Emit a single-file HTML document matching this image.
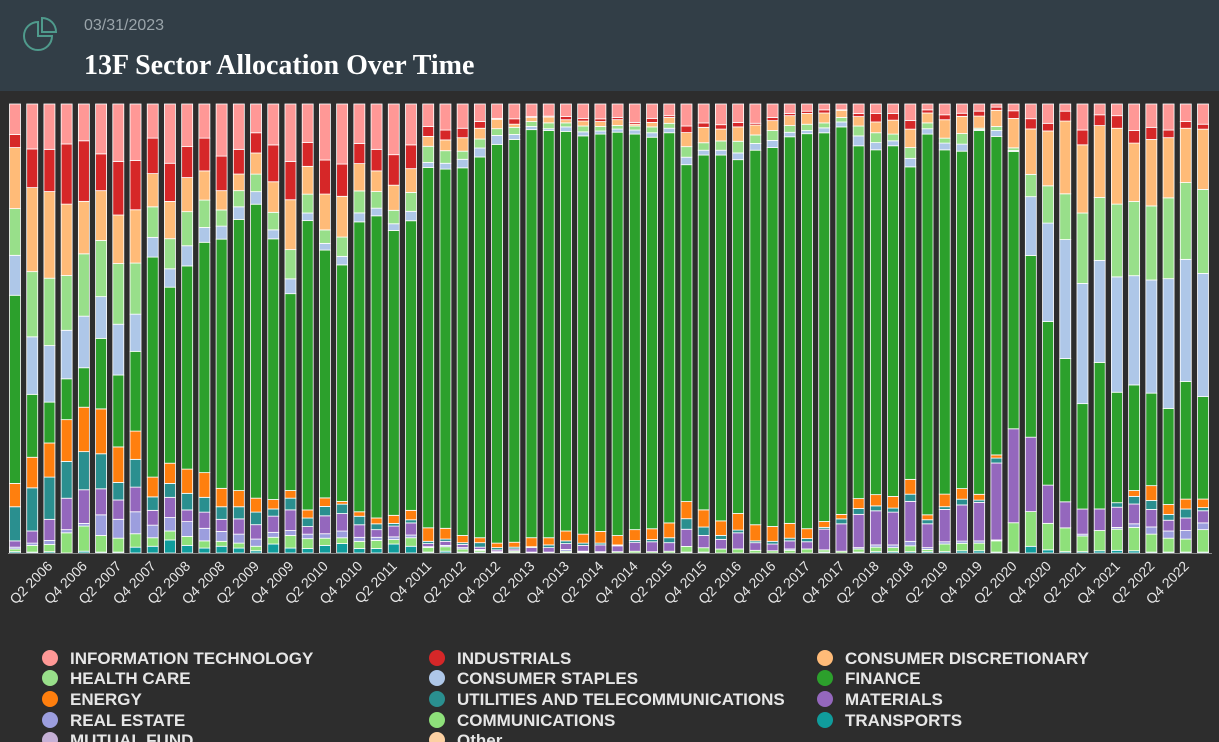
<!DOCTYPE html>
<html><head><meta charset="utf-8">
<style>
html,body{margin:0;padding:0;width:1219px;height:742px;overflow:hidden;background:#2d2d2d;font-family:"Liberation Sans",sans-serif;}
#hdr{position:absolute;left:0;top:0;width:1219px;height:91px;background:#323e47;}
#date{position:absolute;left:84px;top:17px;font-size:16px;color:#9aa4aa;}
#title{position:absolute;left:84px;top:50px;font-size:28px;font-weight:bold;color:#fff;font-family:"Liberation Serif",serif;}
svg{position:absolute;left:0;top:0;}
</style></head><body>
<div id="hdr">
<svg width="60" height="60" style="left:18px;top:14px">
<path d="M20 8 A14 14 0 1 0 34 22 L20 22 Z" fill="none" stroke="#4f9a8c" stroke-width="2"/>
<path d="M24 4 A14 14 0 0 1 38 18 L24 18 Z" fill="none" stroke="#4f9a8c" stroke-width="2"/>
</svg>
<div id="date">03/31/2023</div>
<div id="title">13F Sector Allocation Over Time</div>
</div>
<svg id="chart" width="1219" height="742" style="top:0"></svg>
<script>
const IT=[6.8,10.0,10.1,8.9,8.2,11.1,12.8,12.6,7.6,13.2,9.5,7.6,11.6,10.1,6.4,9.1,12.8,8.6,12.5,13.4,8.8,10.1,11.3,9.1,5.0,5.8,5.4,3.9,3.2,3.3,2.8,2.7,2.8,3.2,3.3,3.0,4.1,3.2,2.6,5.0,4.3,4.7,4.1,4.3,3.0,2.1,1.6,1.3,1.3,2.1,2.1,2.1,3.7,1.3,2.4,2.1,1.6,0.7,1.5,3.3,4.3,1.6,5.8,2.4,2.6,5.9,5.2,5.8,3.9,4.5];
const IND=[2.9,8.6,9.4,13.4,13.5,8.2,11.9,11.0,7.9,8.5,6.9,7.3,7.7,5.5,4.5,8.2,8.5,5.3,7.6,7.2,4.5,4.8,6.8,5.3,2.2,2.2,2.1,1.5,0.2,1.2,0.2,0.2,0.7,0.6,0.6,0.5,0.4,0.9,0.4,1.5,1.0,1.0,1.0,0.4,0.7,0.5,0.5,0.7,0.1,0.7,1.9,1.5,1.9,0.7,1.1,0.7,1.1,0.7,1.7,2.3,1.7,2.2,3.3,2.4,2.8,2.8,2.7,1.7,1.5,1.1];
const CD=[13.6,18.7,19.3,15.9,11.7,11.1,10.8,11.9,7.4,8.3,7.6,6.5,4.3,3.7,4.7,6.8,11.1,6.2,8.0,9.1,6.1,4.6,5.6,5.3,2.2,2.4,3.0,2.4,2.1,0.7,0.9,1.3,0.7,1.1,1.1,1.3,0.4,1.0,1.3,3.2,3.5,2.7,3.2,2.2,2.2,2.2,2.4,2.2,1.6,2.1,2.4,3.1,4.1,2.2,4.1,3.9,2.7,3.6,6.5,10.2,12.2,16.2,15.2,16.0,16.9,13.0,14.8,13.4,12.1,13.4];
const HC=[10.4,14.5,15.0,12.2,13.9,12.5,13.5,11.4,6.8,6.7,7.6,6.1,3.6,3.6,3.9,3.9,6.5,4.2,3.0,4.3,4.9,3.7,3.0,4.2,3.6,2.8,1.8,2.0,1.5,1.6,1.1,1.3,0.9,1.3,1.0,0.8,0.9,1.3,1.1,2.4,1.7,2.1,2.6,1.9,2.2,1.5,1.4,1.1,1.0,2.2,2.2,1.5,2.4,1.3,1.1,2.4,0.3,0.9,0.6,5.0,8.3,10.2,15.7,14.0,16.2,16.5,16.5,18.0,17.1,18.7];
const CS=[8.9,12.8,12.6,10.8,11.5,9.3,11.3,8.3,4.4,4.1,4.5,3.3,2.9,2.8,2.8,2.0,3.3,1.7,1.5,1.9,2.0,1.7,1.5,2.1,1.1,1.3,1.9,2.0,2.0,1.1,0.7,0.4,1.0,0.9,0.7,0.7,0.9,1.0,1.0,1.7,1.1,1.1,1.5,1.5,1.6,1.0,0.7,1.1,1.1,2.2,1.6,1.1,1.9,1.2,1.5,1.6,0.2,1.3,0.2,13.2,21.9,26.5,26.8,22.7,25.7,24.3,25.2,28.9,27.2,27.4];
const FIN=[41.9,14.0,9.1,9.1,8.8,15.7,16.0,17.8,49.0,39.2,45.3,51.3,55.5,60.4,65.4,58.0,43.8,64.5,55.3,52.8,64.7,67.3,63.5,64.5,80.1,80.0,81.8,84.8,88.9,89.8,90.7,90.7,89.0,88.7,88.4,90.1,88.1,87.2,86.9,76.6,80.6,83.1,78.8,83.5,84.3,86.1,87.8,86.4,86.3,78.5,76.8,78.1,69.6,84.7,76.6,76.5,81.2,70.8,61.4,40.8,36.4,31.9,23.5,32.6,24.6,23.5,20.6,21.4,26.2,22.8];
const EN=[5.2,6.8,7.6,9.3,9.9,10.0,7.9,6.3,4.4,4.5,5.4,5.5,4.1,3.6,3.1,2.1,1.7,1.8,1.9,0.6,1.0,1.3,1.8,2.1,3.0,2.4,1.6,1.1,1.0,1.1,2.0,1.6,2.2,2.0,2.6,2.1,2.4,2.4,3.3,3.9,3.9,3.3,3.7,3.6,3.3,3.3,2.2,1.3,1.0,2.2,2.5,2.6,3.3,1.1,2.8,2.4,1.3,0.7,0,0,0,0,0,0,0,1.3,3.3,2.2,2.2,1.9];
const UT=[7.6,9.6,9.4,8.2,8.5,7.8,3.9,6.2,3.0,3.1,3.7,3.3,2.8,2.7,2.8,1.6,2.6,1.9,2.1,2.1,1.9,1.3,0.6,0.7,0.5,0.5,0.4,1.0,0.5,0.4,0.2,0.6,0.6,0.5,0.4,0.2,0.4,0.5,1.1,2.4,1.9,0.9,0.6,0.4,0.6,0.6,0.7,0.4,1.1,1.3,1.1,0.9,1.6,0.9,0.6,1.3,0.5,1.1,0,0,0,0,0,0,1.0,1.7,2.0,1.3,2.0,0.7];
const MAT=[1.4,2.7,4.7,7.0,7.5,5.8,4.3,5.5,3.3,4.5,2.6,3.6,2.7,3.4,3.2,3.6,4.6,1.7,4.0,3.9,2.8,1.7,2.4,2.7,0.7,0.9,0.7,0.5,0.4,0.4,1.0,1.0,1.3,1.3,1.5,1.3,2.0,2.2,1.9,3.9,2.8,2.2,3.6,1.7,1.5,1.8,1.6,4.6,6.1,7.4,7.6,7.3,8.9,5.3,7.2,8.2,8.6,17.1,20.8,16.7,8.5,5.8,5.6,4.8,4.5,4.4,3.9,2.4,2.8,2.7];
const RE=[0.4,0.5,0.9,0.7,0.6,4.6,4.2,4.9,2.8,3.0,3.3,2.8,2.2,2.0,1.6,1.1,1.1,1.0,1.0,1.5,0.9,0.7,0.6,0.6,0.2,0.3,0.3,0.2,0.1,0.1,0,0,0.4,0.1,0.1,0,0,0,0,0,0,0,0,0,0,0.3,0,0,0,0.3,0.5,0.6,1.0,0.4,0.5,0.5,0.5,0.2,0,0,0,0,0.4,0,0.4,0.8,1.6,1.6,1.9,1.5];
const COMM=[0.6,1.5,1.6,4.5,5.6,3.7,3.1,3.0,1.9,2.0,2.0,1.6,1.1,1.1,1.0,1.5,2.8,2.2,1.6,1.3,1.6,1.8,1.0,1.9,1.0,1.0,0.7,0.4,0.1,0.3,0.1,0.2,0.3,0.2,0.2,0.3,0.4,0.3,0.4,1.3,1.0,0.9,0.9,0.6,0.5,0.6,0.9,0.5,0.4,0.7,1.0,0.9,1.3,0.5,1.7,1.7,1.7,2.5,6.5,7.8,5.9,5.3,3.5,4.5,4.7,5.2,4.0,3.1,2.9,5.0];
const TR=[0.3,0.2,0.3,0,0.4,0.2,0.2,1.3,1.5,2.9,1.7,1.1,1.5,1.1,0.5,2.0,1.1,1.0,1.7,2.1,1.0,1.0,2.0,1.5,0.2,0.4,0.2,0.2,0.1,0.1,0.1,0,0.1,0.1,0,0,0,0,0,0.2,0.2,0,0,0,0,0,0,0.2,0,0.2,0.3,0.3,0.3,0.3,0.3,0.5,0.5,0.2,0.2,1.5,0.7,0.3,0.3,0.5,0.6,0.5,0.2,0.2,0.2,0.2];
const tickLabels=["Q2 2006","Q4 2006","Q2 2007","Q4 2007","Q2 2008","Q4 2008","Q2 2009","Q4 2009","Q2 2010","Q4 2010","Q2 2011","Q4 2011","Q2 2012","Q4 2012","Q2 2013","Q4 2013","Q2 2014","Q4 2014","Q2 2015","Q4 2015","Q2 2016","Q4 2016","Q2 2017","Q4 2017","Q2 2018","Q4 2018","Q2 2019","Q4 2019","Q2 2020","Q4 2020","Q2 2021","Q4 2021","Q2 2022","Q4 2022"];
const legendNames=["INFORMATION TECHNOLOGY","INDUSTRIALS","CONSUMER DISCRETIONARY","HEALTH CARE","CONSUMER STAPLES","FINANCE","ENERGY","UTILITIES AND TELECOMMUNICATIONS","MATERIALS","REAL ESTATE","COMMUNICATIONS","TRANSPORTS","MUTUAL FUND","Other"];
const colors=["#ff9896","#d62728","#ffbb78","#98df8a","#aec7e8","#2ca02c","#ff7f0e","#2a8f8f","#9467bd","#9c9ede","#8ee07a","#109c9c","#c5b0d5","#fdd0a2"];
const series=[IT,IND,CD,HC,CS,FIN,EN,UT,MAT,RE,COMM,TR];
const slugs=["information-technology","industrials","consumer-discretionary","health-care","consumer-staples","finance","energy","utilities","materials","real-estate","communications","transports"];

(function(){
const svg=document.getElementById('chart');
const NS='http://www.w3.org/2000/svg';
const N=IT.length, x0=15, x1=1203, plotTop=104, plotBot=553, bw=11;
function xPos(i){return x0+i*(x1-x0)/(N-1);}
function yScale(p){return plotBot-p/100*(plotBot-plotTop);}
for(let i=0;i<N;i++){
  let total=0; series.forEach(s=>total+=s[i]);
  let cum=0;
  for(let k=series.length-1;k>=0;k--){
    const v=series[k][i]/total*100;
    if(v<=0) continue;
    const r=document.createElementNS(NS,'rect');
    const yT=yScale(cum+v), yB=yScale(cum);
    r.setAttribute('x',xPos(i)-bw/2);r.setAttribute('y',yT);
    r.setAttribute('width',bw);r.setAttribute('height',Math.max(0,yB-yT));
    r.setAttribute('fill',colors[k]);r.setAttribute('stroke','#fff');r.setAttribute('stroke-width','0.8');
    
    
    svg.appendChild(r);
    cum+=v;
  }
}
const ax=document.createElementNS(NS,'line');
ax.setAttribute('x1',8);ax.setAttribute('x2',1212);ax.setAttribute('y1',plotBot+0.5);ax.setAttribute('y2',plotBot+0.5);
ax.setAttribute('stroke','#888');


svg.appendChild(ax);
tickLabels.forEach((t,j)=>{
  const i=2+j*2, x=xPos(i)+4, y=567;
  const tx=document.createElementNS(NS,'text');
  tx.setAttribute('x',x);tx.setAttribute('y',y);
  tx.setAttribute('transform','rotate(-45 '+x+' '+y+')');
  tx.setAttribute('text-anchor','end');tx.setAttribute('fill','#e6e6e6');
  tx.setAttribute('font-size','14');tx.setAttribute('font-family','Liberation Sans, sans-serif');
  tx.textContent=t;
  
  
  svg.appendChild(tx);
});
const colX=[50,437,825], rowY=[658,678,699,720,740];
legendNames.forEach((name,j)=>{
  const cx=colX[j%3], cy=rowY[Math.floor(j/3)];
  const c=document.createElementNS(NS,'circle');
  c.setAttribute('cx',cx);c.setAttribute('cy',cy);c.setAttribute('r',8);c.setAttribute('fill',colors[j]);
  
  
  svg.appendChild(c);
  const tx=document.createElementNS(NS,'text');
  tx.setAttribute('x',cx+20);tx.setAttribute('y',cy+6);
  tx.setAttribute('fill','#e6e6e6');tx.setAttribute('font-size','17');tx.setAttribute('font-weight','bold');
  tx.setAttribute('font-family','Liberation Sans, sans-serif');
  tx.textContent=name;
  
  
  svg.appendChild(tx);
});
})();
</script>
</body></html>
